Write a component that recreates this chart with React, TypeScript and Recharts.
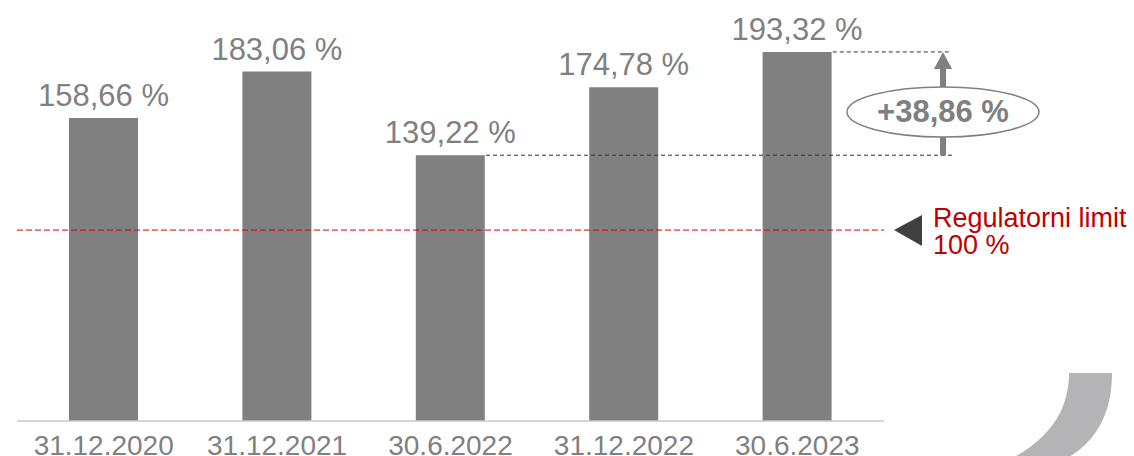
import { BarChart, Bar, XAxis, YAxis, ReferenceLine, LabelList } from 'recharts';

const categories = ['31.12.2020', '31.12.2021', '30.6.2022', '31.12.2022', '30.6.2023'];
const values = [158.66, 183.06, 139.22, 174.78, 193.32];
const limitValue = 100;
const limitLabel = ['Regulatorni limit', '100 %'];
const changeLabel = '+38,86 %';

const W = 1134;
const H = 456;
const margin = { top: 1, right: 250, bottom: 0, left: 17 };
const axisHeight = 35;
const yMax = 220;
const plotBottom = H - margin.bottom - axisHeight;
const plotH = plotBottom - margin.top;
const band = (W - margin.left - margin.right) / categories.length;
const barSize = 69;

const yOf = (v: number) => plotBottom - (v / yMax) * plotH;
const barRight = (i: number) => margin.left + band * (i + 0.5) + barSize / 2;

const fmt = (v: number) => v.toFixed(2).replace('.', ',') + ' %';
const data = categories.map((name, i) => ({ name, value: values[i] }));

const font = '"Liberation Sans", Arial, sans-serif';
const gray = '#808080';

export default function App() {
  const from = 2; // 30.6.2022
  const to = 4; // 30.6.2023
  const yTo = yOf(values[to]);
  const yFrom = yOf(values[from]);
  const ax = 943;

  return (
    <div style={{ position: 'absolute', left: 0, top: 0, width: W, height: H, fontFamily: font }}>
      <BarChart width={W} height={H} data={data} margin={margin}>
        <XAxis
          dataKey="name"
          height={axisHeight}
          tickLine={false}
          tickMargin={8}
          axisLine={{ stroke: '#c8c8c8', strokeWidth: 1.5 }}
          tick={{ fill: gray, fontSize: 28, fontFamily: font }}
          interval={0}
        />
        <YAxis hide domain={[0, yMax]} />
        <Bar dataKey="value" fill={gray} barSize={barSize} isAnimationActive={false}>
          <LabelList
            dataKey="value"
            position="top"
            offset={12}
            formatter={(v: number) => fmt(v)}
            style={{ fill: gray, fontSize: 31, fontFamily: font }}
          />
        </Bar>
        <ReferenceLine y={limitValue} stroke="#d40000" strokeDasharray="6 3" strokeWidth={1} />
      </BarChart>
      <svg width={W} height={H} style={{ position: 'absolute', left: 0, top: 0, pointerEvents: 'none' }}>
        <line x1={barRight(to) + 1} y1={yTo} x2={950} y2={yTo} stroke="#333" strokeDasharray="4 3" />
        <line x1={barRight(from) + 1} y1={yFrom} x2={953} y2={yFrom} stroke="#333" strokeDasharray="4 3" />
        <rect x={ax - 3} y={yTo + 15} width={6} height={yFrom - yTo - 15} fill={gray} />
        <polygon points={`${ax},${yTo} ${ax - 9},${yTo + 17} ${ax + 9},${yTo + 17}`} fill={gray} />
        <ellipse cx={ax} cy={112} rx={96} ry={25} fill="#fff" stroke={gray} strokeWidth={1.5} />
        <text x={ax} y={122} textAnchor="middle" fill={gray} fontSize={31} fontWeight="bold" fontFamily={font}>
          {changeLabel}
        </text>
        <polygon points="894,230 922,215 922,246" fill="#404040" />
        <text x={933} y={227} fill="#c00000" fontSize={27} fontFamily={font}>
          {limitLabel[0]}
        </text>
        <text x={933} y={254} fill="#c00000" fontSize={27} fontFamily={font}>
          {limitLabel[1]}
        </text>
        <path
          d="M1069,373 L1112,373 C1112,415 1095,445 1060,462 L1005,462 C1050,440 1069,410 1069,373 Z"
          fill="#b4b4b6"
        />
      </svg>
    </div>
  );
}
